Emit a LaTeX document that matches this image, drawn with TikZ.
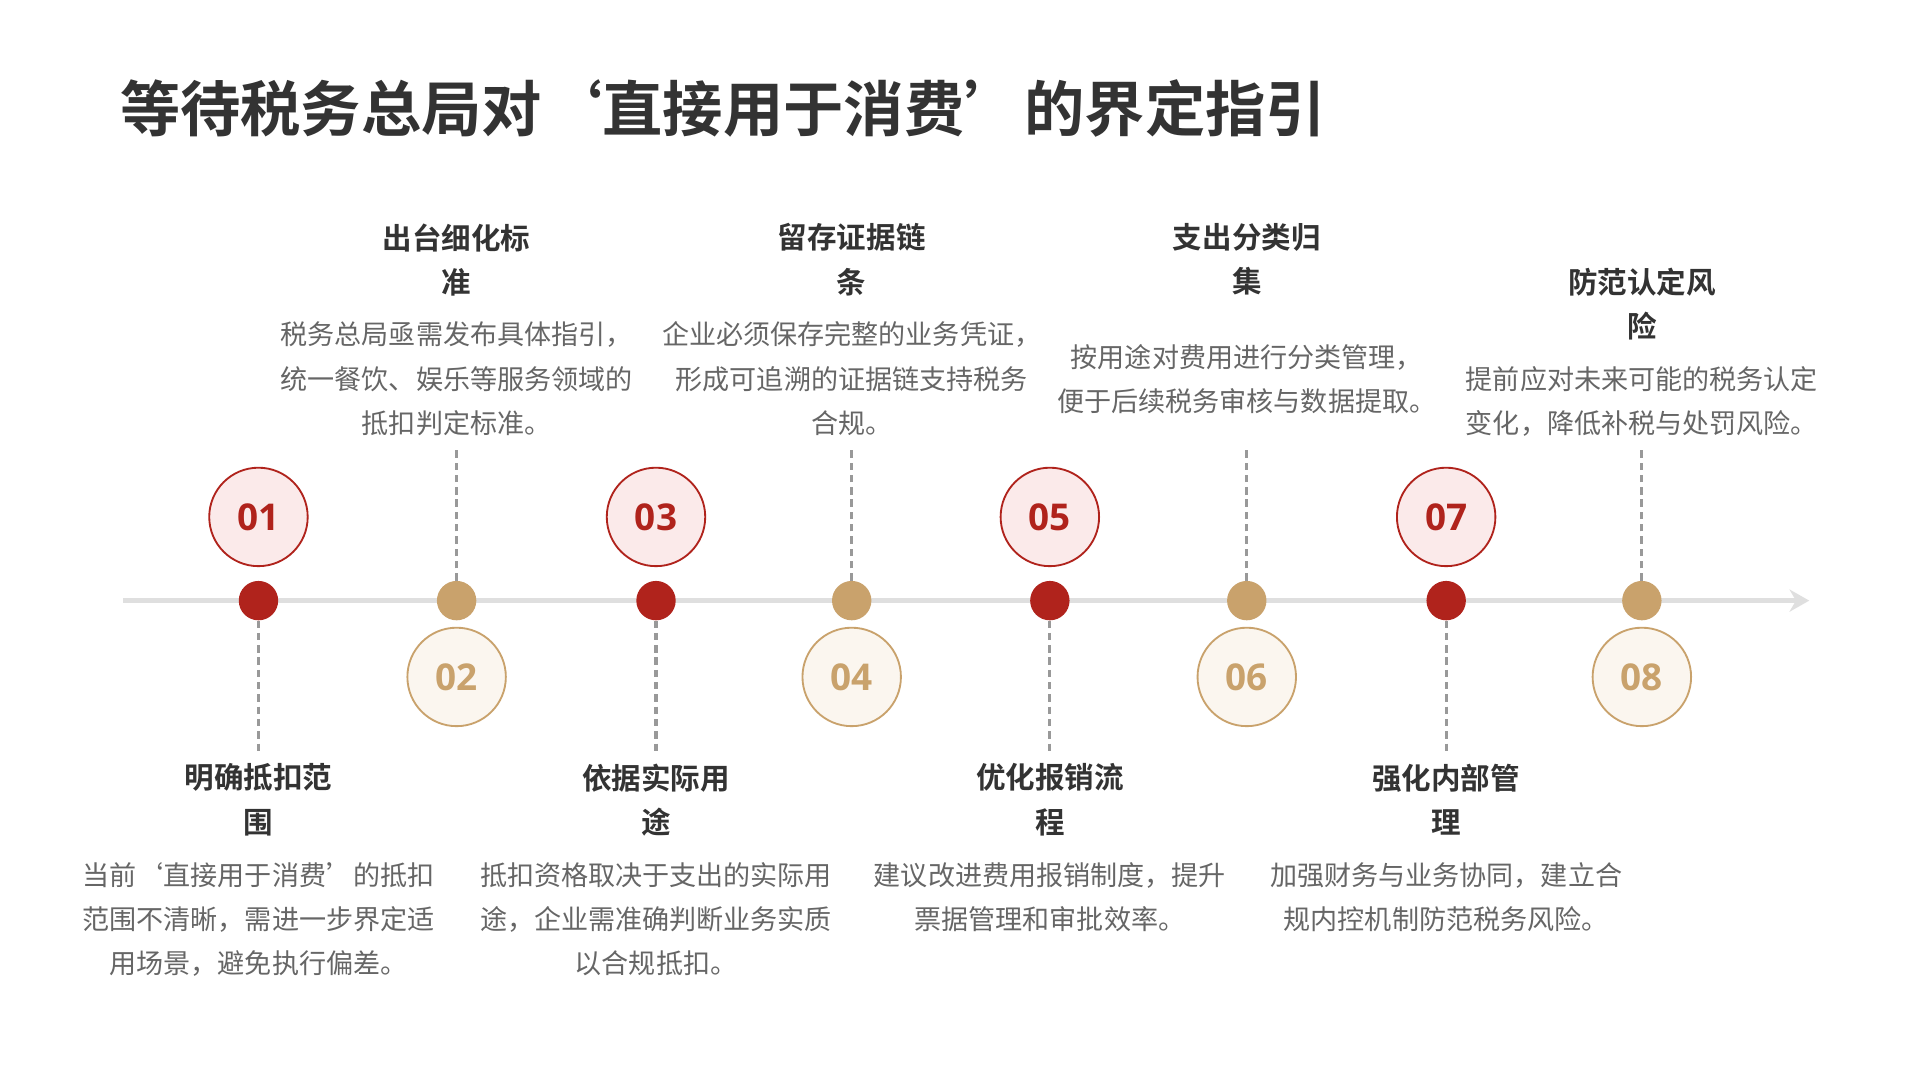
\documentclass[tikz,border=0pt]{standalone}
\usepackage{fontspec}
\setmainfont{Noto Sans CJK SC}
\newfontfamily\cjkb{Noto Sans CJK SC Bold}
\newfontfamily\numf{Open Sans}
\usetikzlibrary{arrows.meta}
\definecolor{dred}{HTML}{B0231C}
\definecolor{tan}{HTML}{C9A26C}
\definecolor{pinkf}{HTML}{FBEAEA}
\definecolor{tanf}{HTML}{FBF6EF}
\definecolor{txt}{HTML}{333333}
\definecolor{gtxt}{HTML}{666666}
\begin{document}
\begin{tikzpicture}[x=1pt,y=-1pt,
  oddnum/.style={circle,draw=dred,line width=1.5pt,fill=pinkf,minimum size=80pt,inner sep=0pt,text=dred,font={\numf\bfseries\fontsize{30}{30}\selectfont}},
  evennum/.style={circle,draw=tan,line width=1.5pt,fill=tanf,minimum size=80pt,inner sep=0pt,text=tan,font={\numf\bfseries\fontsize{30}{30}\selectfont}},
  rdot/.style={circle,fill=dred,minimum size=32pt,inner sep=0pt},
  tdot/.style={circle,fill=tan,minimum size=32pt,inner sep=0pt},
  ttl/.style={align=center,text=txt,font={\cjkb\fontsize{24}{36}\selectfont}},
  dsc/.style={align=center,text=gtxt,font={\fontsize{22}{36}\selectfont}},
  dline/.style={draw=gray!80,line width=2.5pt,dash pattern=on 6pt off 4pt}]
\useasboundingbox (0,0) rectangle (1560,878);
\fill[white] (0,0) rectangle (1560,878);
\node[anchor=west,text=txt,font={\cjkb\fontsize{49}{49}\selectfont}] (title) at (94,88) {等待税务总局对‘直接用于消费’的界定指引};
\coordinate (as) at (100,488); \coordinate (ae) at (1470,488);
\draw[gray!25,line width=4pt,-{Stealth[length=16pt,width=18pt]}] (as) -- (ae);
% odd
\foreach \x/\n/\t/\d/\nm in {
 210/01/{明确抵扣范\\围}/{当前‘直接用于消费’的抵扣\\范围不清晰，需进一步界定适\\用场景，避免执行偏差。}/a,
 533/03/{依据实际用\\途}/{抵扣资格取决于支出的实际用\\途，企业需准确判断业务实质\\以合规抵扣。}/b,
 853/05/{优化报销流\\程}/{建议改进费用报销制度，提升\\票据管理和审批效率。}/c,
 1175/07/{强化内部管\\理}/{加强财务与业务协同，建立合\\规内控机制防范税务风险。}/d}{
 \coordinate (e\nm) at (\x,610);
 \node[rdot] (d\nm) at (\x,488) {};
 \draw[dline] (d\nm) -- (e\nm);
 \node[oddnum] (n\nm) at (\x,420) {\n};
 \node[ttl,anchor=north] (t\nm) at (\x,617) {\t};
 \node[dsc,anchor=north] (s\nm) at (\x,697) {\d};
}
% even
\foreach \x/\n/\t/\d/\nm/\ty/\dy in {
 371/02/{出台细化标\\准}/{税务总局亟需发布具体指引，\\统一餐饮、娱乐等服务领域的\\抵扣判定标准。}/e/178/258,
 692/04/{留存证据链\\条}/{企业必须保存完整的业务凭证，\\形成可追溯的证据链支持税务\\合规。}/f/178/258,
 1013/06/{支出分类归\\集}/{按用途对费用进行分类管理，\\便于后续税务审核与数据提取。}/g/178/276,
 1334/08/{防范认定风\\险}/{提前应对未来可能的税务认定\\变化，降低补税与处罚风险。}/h/214/294}{
 \coordinate (e\nm) at (\x,365);
 \node[tdot] (d\nm) at (\x,488) {};
 \draw[dline] (d\nm) -- (e\nm);
 \node[evennum] (n\nm) at (\x,550) {\n};
 \node[ttl,anchor=north] (t\nm) at (\x,\ty) {\t};
 \node[dsc,anchor=north] (s\nm) at (\x,\dy) {\d};
}
\end{tikzpicture}
\end{document}
